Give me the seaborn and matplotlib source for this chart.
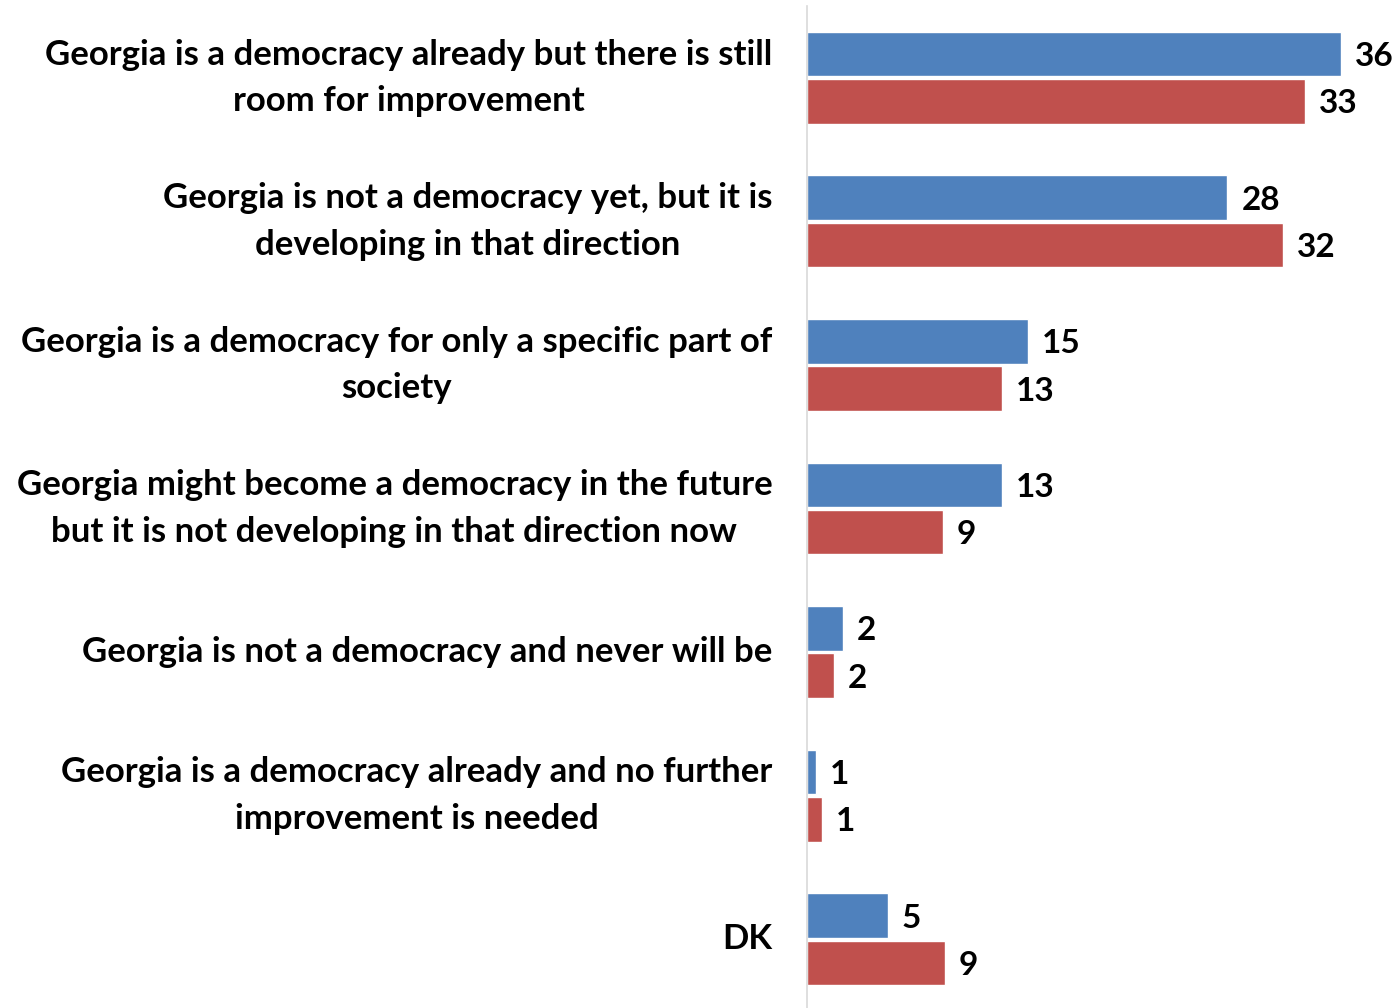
import matplotlib
matplotlib.use("Agg")
import matplotlib.pyplot as plt
import pandas as pd
import seaborn as sns

# answer categories and the two survey waves
categories = [
    "Georgia is a democracy already but there is still\nroom for improvement",
    "Georgia is not a democracy yet, but it is\ndeveloping in that direction",
    "Georgia is a democracy for only a specific part of\nsociety",
    "Georgia might become a democracy in the future\nbut it is not developing in that direction now",
    "Georgia is not a democracy and never will be",
    "Georgia is a democracy already and no further\nimprovement is needed",
    "DK",
]
series_names = ["Wave 1", "Wave 2"]
wave1 = [35.7, 28.1, 14.8, 13.0, 2.4, 0.6, 5.4]
wave2 = [33.3, 31.8, 13.0, 9.1, 1.8, 1.0, 9.2]
colors = ["#4F81BD", "#C0504D"]

df = pd.DataFrame(
    {
        "Answer": categories * 2,
        "Wave": [series_names[0]] * len(categories) + [series_names[1]] * len(categories),
        "Share": wave1 + wave2,
    }
)

sns.set_theme(style="white")
plt.rcParams["font.family"] = ["Lato", "DejaVu Sans"]
plt.rcParams["font.weight"] = "bold"
plt.rcParams["text.color"] = "black"
plt.rcParams["ytick.color"] = "black"

fig = plt.figure(figsize=(13.98, 10.08), dpi=100)
ax = fig.add_axes([807 / 1398, -3 / 1008, 591 / 1398, 1005 / 1008])

sns.barplot(
    data=df,
    y="Answer",
    x="Share",
    hue="Wave",
    order=categories,
    hue_order=series_names,
    palette=colors,
    orient="h",
    width=0.66,
    gap=0.06,
    saturation=1,
    legend=False,
    ax=ax,
)

for cont in ax.containers:
    labels = ax.bar_label(cont, fmt="%.0f", padding=10, fontsize=24,
                          fontweight="bold", color="black")
    for t in labels:
        t.set_verticalalignment("center_baseline")

ax.set_xlim(0, 39.5)
ax.set_ylim(6.5, -0.5)
ax.set_xlabel("")
ax.set_ylabel("")
ax.set_xticks([])
ax.tick_params(axis="y", length=0, pad=25, labelsize=25, labelcolor="black")
for lbl in ax.get_yticklabels():
    lbl.set_multialignment("center")
    lbl.set_verticalalignment("center")
    lbl.set_fontweight("bold")
    lbl.set_linespacing(1.55)

for side in ["top", "right", "bottom"]:
    ax.spines[side].set_visible(False)
ax.spines["left"].set_color("#D9D9D9")
ax.spines["left"].set_linewidth(1.2)

fig.savefig("out.png", dpi=100)
